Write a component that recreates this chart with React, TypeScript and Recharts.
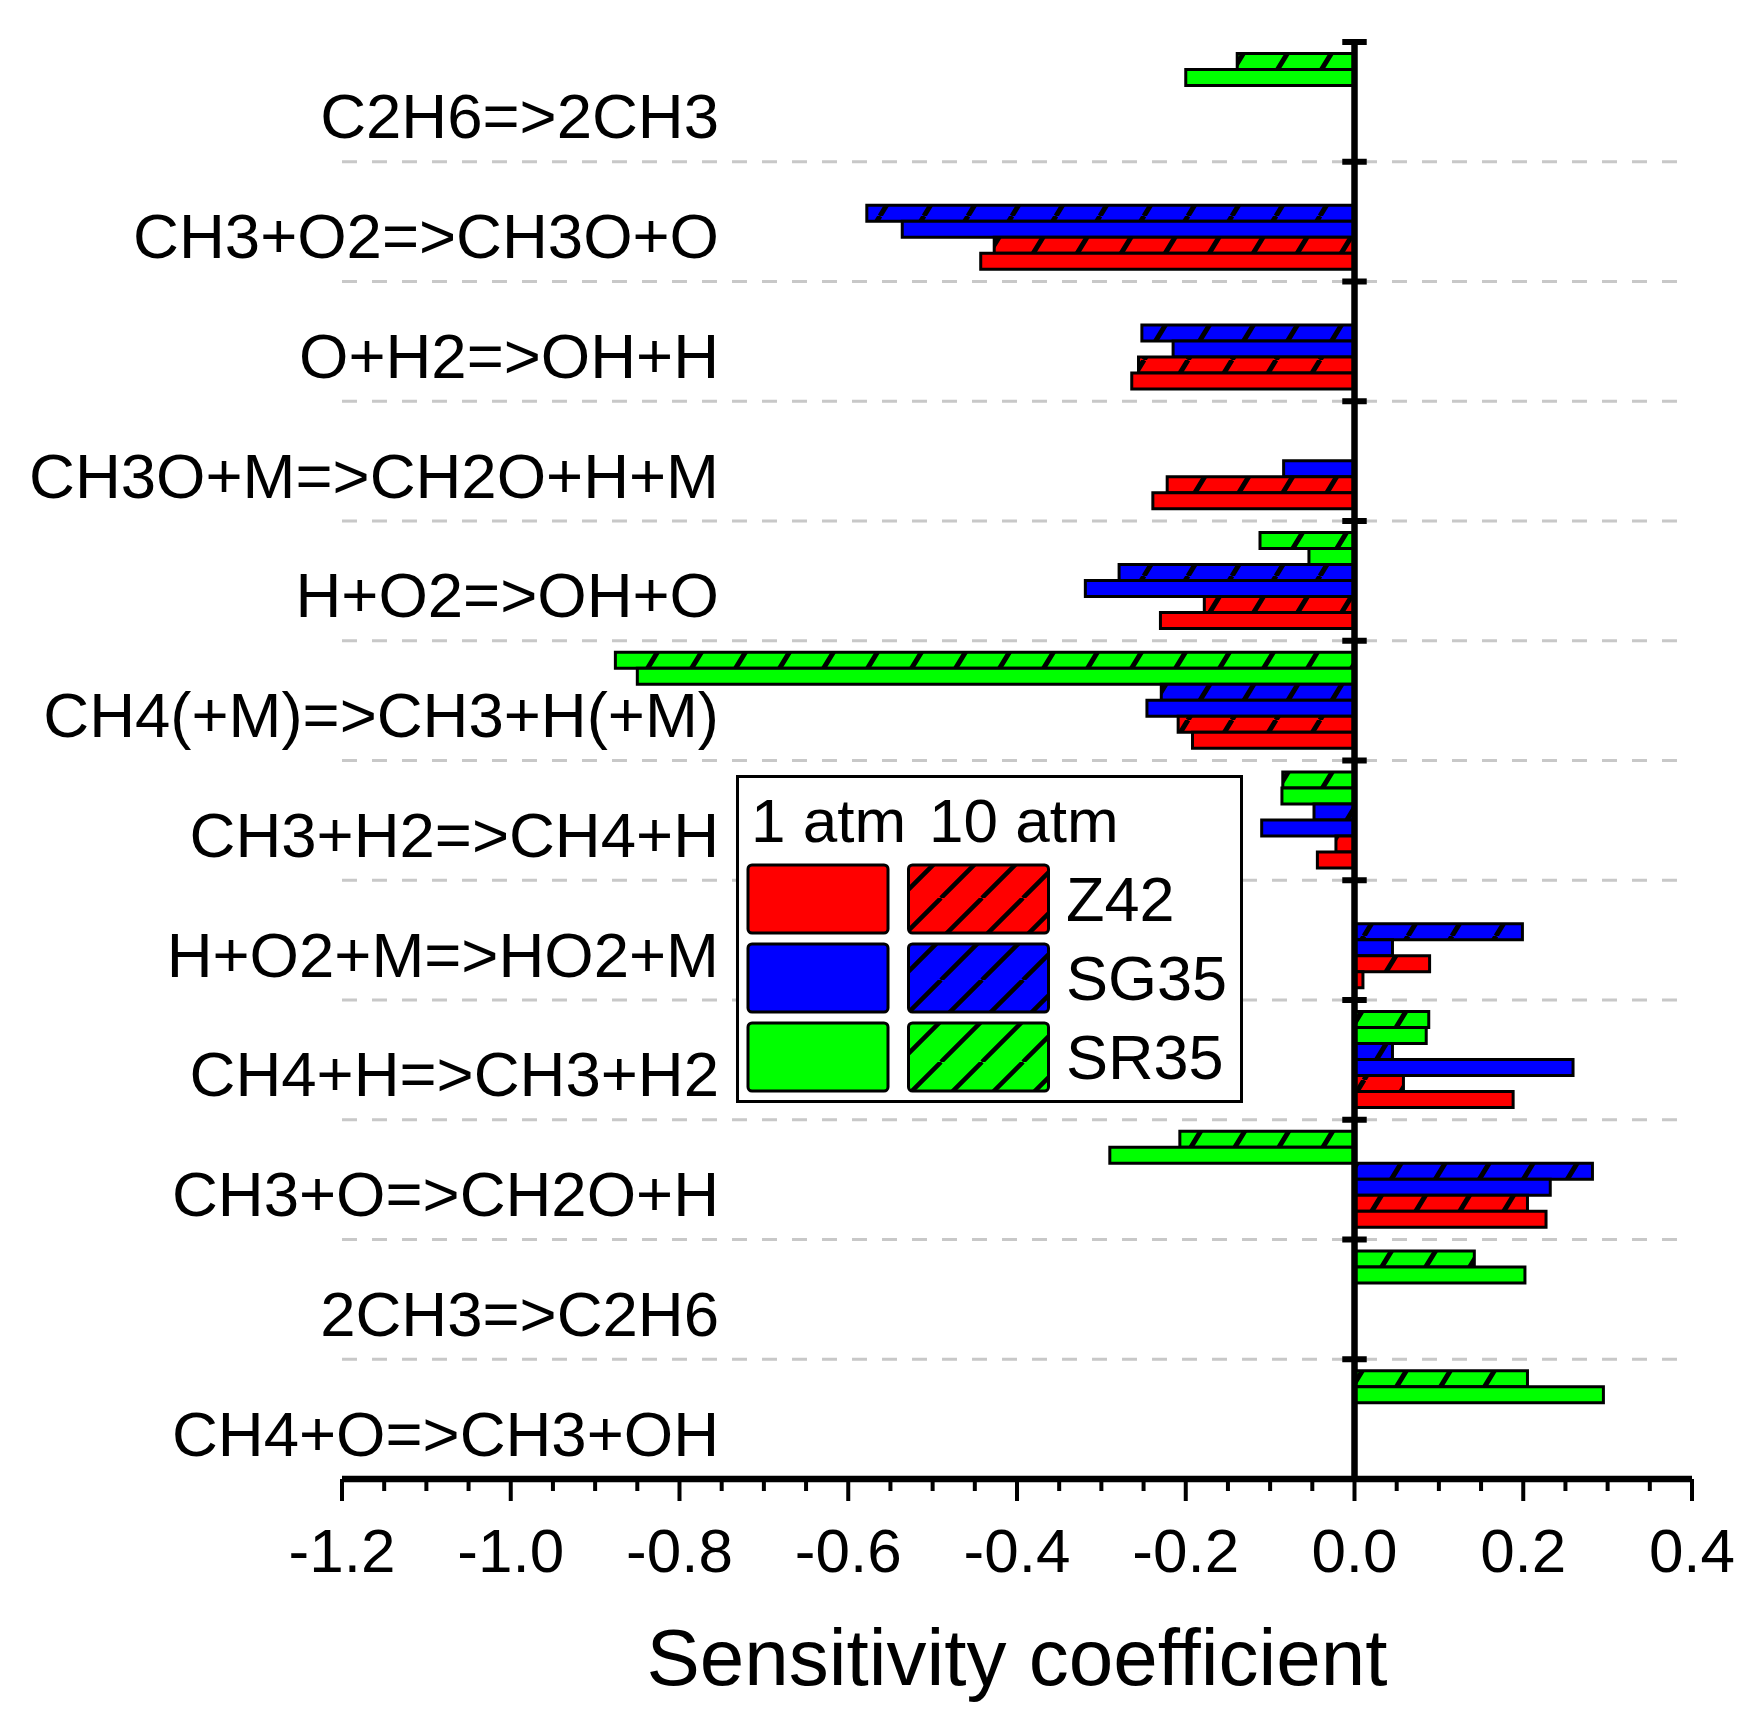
import React from "react";
import { BarChart, Bar, XAxis, YAxis, ReferenceLine, Legend } from "recharts";

// reactions, top to bottom
const reactions = [
  "C2H6=>2CH3",
  "CH3+O2=>CH3O+O",
  "O+H2=>OH+H",
  "CH3O+M=>CH2O+H+M",
  "H+O2=>OH+O",
  "CH4(+M)=>CH3+H(+M)",
  "CH3+H2=>CH4+H",
  "H+O2+M=>HO2+M",
  "CH4+H=>CH3+H2",
  "CH3+O=>CH2O+H",
  "2CH3=>C2H6",
  "CH4+O=>CH3+OH",
];

// sensitivity coefficients (null = no bar)
const z42At1 = [null, -0.443, -0.264, -0.239, -0.23, -0.192, -0.044, 0.01, 0.188, 0.227, null, null];
const z42At10 = [null, -0.427, -0.256, -0.222, -0.178, -0.209, -0.022, 0.089, 0.058, 0.205, null, null];
const sg35At1 = [null, -0.536, -0.215, -0.084, -0.319, -0.246, -0.11, 0.045, 0.259, 0.232, null, null];
const sg35At10 = [null, -0.578, -0.252, null, -0.279, -0.229, -0.048, 0.199, 0.045, 0.282, null, null];
const sr35At1 = [-0.2, null, null, null, -0.054, -0.85, -0.086, null, 0.085, -0.29, 0.202, 0.295];
const sr35At10 = [-0.139, null, null, null, -0.112, -0.876, -0.085, null, 0.088, -0.207, 0.142, 0.205];

const majorTicks = [-1.2, -1.0, -0.8, -0.6, -0.4, -0.2, 0.0, 0.2, 0.4];
const mechanisms = ["Z42", "SG35", "SR35"];

const colors: Record<string, string> = {
  Z42: "#ff0000",
  SG35: "#0000ff",
  SR35: "#00ff00",
};

const FONT = "'Liberation Sans', Arial, sans-serif";

// major ticks plus 3 minor ticks between them
const xTicks = majorTicks.flatMap((t, i) =>
  i < majorTicks.length - 1 ? [t, t + 0.05, t + 0.1, t + 0.15] : [t]
);

const data = reactions.map((name, i) => ({
  name,
  z42At1: z42At1[i],
  z42At10: z42At10[i],
  sg35At1: sg35At1[i],
  sg35At10: sg35At10[i],
  sr35At1: sr35At1[i],
  sr35At10: sr35At10[i],
}));

const XTick = (props: any) => {
  const { x, y, payload } = props;
  const v = payload.value;
  const major = Math.abs(v * 5 - Math.round(v * 5)) < 1e-6;
  return (
    <g>
      <line x1={x} x2={x} y1={y} y2={y + (major ? 22 : 12)} stroke="#000" strokeWidth={4} />
      {major && (
        <text x={x} y={y + 93} textAnchor="middle" fontSize={62} fontFamily={FONT} fill="#000">
          {v.toFixed(1)}
        </text>
      )}
    </g>
  );
};

const YTick = (props: any) => {
  const { x, y, payload } = props;
  return (
    <text
      x={x + 377}
      y={y + 14}
      dy="0.355em"
      textAnchor="end"
      fontSize={63.5}
      fontFamily={FONT}
      fill="#000"
    >
      {payload.value}
    </text>
  );
};

const LegendBox = () => (
  <svg width={507} height={328} style={{ display: "block" }}>
    <defs>
      {mechanisms.map((m) => (
        <pattern key={m} id={`leg-hatch-${m}`} patternUnits="userSpaceOnUse" width={41} height={41}>
          <rect width={41} height={41} fill={colors[m]} />
          <path d="M-41,41 L0,0 M0,41 L41,0 M41,41 L82,0" stroke="#000" strokeWidth={4.5} />
        </pattern>
      ))}
    </defs>
    <rect x={1.5} y={1.5} width={504} height={325} fill="#fff" stroke="#000" strokeWidth={3} />
    <text x={15} y={67} fontSize={62} fontFamily={FONT} fill="#000">1 atm</text>
    <text x={193} y={67} fontSize={62} fontFamily={FONT} fill="#000">10 atm</text>
    {mechanisms.map((m, i) => {
      const top = 90 + i * 79;
      return (
        <g key={m}>
          <rect x={12} y={top} width={140} height={68} rx={4} fill={colors[m]} stroke="#000" strokeWidth={3} />
          <rect x={172.5} y={top} width={140} height={68} rx={4} fill={`url(#leg-hatch-${m})`} stroke="#000" strokeWidth={3} />
          <text x={330} y={top + 56} fontSize={63} fontFamily={FONT} fill="#000">{m}</text>
        </g>
      );
    })}
  </svg>
);

const barSeries = [
  { key: "sr35At10", mech: "SR35", hatched: true },
  { key: "sr35At1", mech: "SR35", hatched: false },
  { key: "sg35At10", mech: "SG35", hatched: true },
  { key: "sg35At1", mech: "SG35", hatched: false },
  { key: "z42At10", mech: "Z42", hatched: true },
  { key: "z42At1", mech: "Z42", hatched: false },
];

export default function App() {
  return (
    <div style={{ position: "absolute", left: 0, top: 0, width: 1748, height: 1728, background: "#fff" }}>
      <svg width={0} height={0} style={{ position: "absolute" }}>
        <defs>
          {mechanisms.map((m) => (
            <pattern key={m} id={`bar-hatch-${m}`} patternUnits="userSpaceOnUse" width={44} height={72}>
              <rect width={44} height={72} fill={colors[m]} />
              <path d="M-44,72 L0,0 M0,72 L44,0 M44,72 L88,0" stroke="#000" strokeWidth={5} />
            </pattern>
          ))}
        </defs>
      </svg>
      <BarChart
        width={1748}
        height={1728}
        data={data}
        layout="vertical"
        margin={{ top: 42, right: 56, left: 42, bottom: 0 }}
        barCategoryGap="9.5%"
        barGap={0}
      >
        <XAxis
          type="number"
          domain={[-1.2, 0.4]}
          allowDataOverflow
          ticks={xTicks}
          interval={0}
          tick={<XTick />}
          tickLine={false}
          tickSize={0}
          tickMargin={0}
          axisLine={{ stroke: "#000", strokeWidth: 6.5 }}
          height={249}
          label={{
            value: "Sensitivity coefficient",
            position: "insideBottom",
            offset: 43,
            style: { fontSize: 80, fontFamily: FONT, fill: "#000" },
          }}
        />
        <YAxis
          type="category"
          dataKey="name"
          width={300}
          interval={0}
          tick={<YTick />}
          tickLine={false}
          tickSize={0}
          tickMargin={0}
          axisLine={false}
        />
        {reactions.slice(1).map((r) => (
          <ReferenceLine
            key={`grid-${r}`}
            y={r}
            position="start"
            stroke="#c8c8c8"
            strokeWidth={3}
            strokeDasharray="15 15"
          />
        ))}
        {barSeries.map((s) => (
          <Bar
            key={s.key}
            dataKey={s.key}
            fill={s.hatched ? `url(#bar-hatch-${s.mech})` : colors[s.mech]}
            stroke="#000"
            strokeWidth={3}
            isAnimationActive={false}
          />
        ))}
        <ReferenceLine x={0} stroke="#000" strokeWidth={6.5} />
        {reactions.map((r) => (
          <ReferenceLine
            key={`edge-${r}`}
            position="start"
            segment={[
              { x: -0.0145, y: r },
              { x: 0.0145, y: r },
            ]}
            stroke="#000"
            strokeWidth={6}
          />
        ))}
        <Legend
          layout="horizontal"
          verticalAlign="middle"
          align="center"
          wrapperStyle={{ left: 735.5, top: 775, width: 507, height: 328 }}
          content={() => <LegendBox />}
        />
      </BarChart>
    </div>
  );
}
